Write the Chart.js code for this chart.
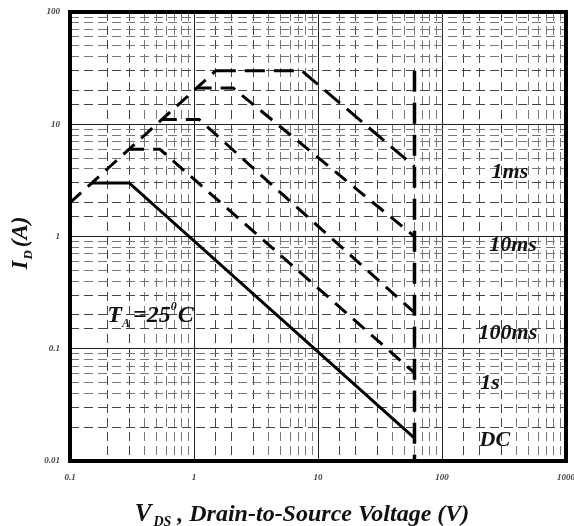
<!DOCTYPE html>
<html>
<head>
<meta charset="utf-8">
<script src="https://cdn.jsdelivr.net/npm/chart.js@4.4.0/dist/chart.umd.min.js"></script>
<style>
  body { margin: 0; background: #fff; }
  #wrap { width: 574px; height: 526px; }
</style>
</head>
<body>
<div id="wrap"><canvas id="soa" width="574" height="526"></canvas></div>
<script>
"use strict"

// tick labels for the decades
const xTickLabels = ['0.1', '1', '10', '100', '1000']
const yTickLabels = ['0.01', '0.1', '1', '10', '100']

// Rds(on) limit line (V, A)
const rdsV = [0.1, 1.5]
const rdsI = [2, 30]

// pulse curves: current limit, then power limit down to 60 V
const dcV = [0.15, 0.3, 60]
const dcI = [3, 3, 0.016]
const s1V = [0.3, 0.53, 60]
const s1I = [6, 6, 0.061]
const ms100V = [0.55, 1.1, 60]
const ms100I = [11, 11, 0.21]
const ms10V = [1.05, 2.07, 60]
const ms10I = [21, 21, 1.0]
const ms1V = [1.5, 7.4, 60]
const ms1I = [30, 30, 4.2]

// breakdown voltage limit
const bvV = [60, 60]
const bvI = [30, 0.01]

// curve labels, placed in data coordinates
const curveLabels = ['1ms', '10ms', '100ms', '1s', 'DC']
const labelV = [353, 374, 340, 244, 267]
const labelI = [3.73, 0.83, 0.136, 0.0497, 0.0154]

function pts(xs, ys) {
    return xs.map((x, i) => ({x: x, y: ys[i]}))
}

function isDecade(v) {
    const l = Math.log10(v)
    return Math.abs(l - Math.round(l)) < 1e-6
}

function digit(v) {
    // first significant digit of a tick value
    return Math.round(v / Math.pow(10, Math.floor(Math.log10(v) + 1e-9)))
}

function gridColor(ctx) {
    if (!ctx.tick) return '#000'
    const v = ctx.tick.value
    if (isDecade(v)) return '#222'
    const d = digit(v)
    return d <= 3 ? '#444' : '#777'
}

function gridDash(ctx) {
    if (!ctx.tick || isDecade(ctx.tick.value)) return []
    return [9, 5]
}

const serif = 'Liberation Serif'
const tickFont = {family: serif, size: 9, style: 'italic', weight: 'bold'}

function dashed(data) {
    return {
        data: data, showLine: true, pointRadius: 0,
        borderColor: '#000', borderWidth: 3, borderDash: [15, 9],
        borderCapStyle: 'butt', fill: false
    }
}

// draw a row of text pieces, some of them sub/superscript
function drawRuns(ctx, runs, x, y, align) {
    let total = 0
    runs.forEach(r => {
        ctx.font = 'italic bold ' + r.size + 'px "' + serif + '"'
        r.w = ctx.measureText(r.text).width
        total += r.w + (r.gap || 0)
    })
    let cx = align === 'center' ? x - total / 2 : x
    ctx.textAlign = 'left'
    ctx.textBaseline = 'alphabetic'
    runs.forEach(r => {
        ctx.font = 'italic bold ' + r.size + 'px "' + serif + '"'
        ctx.fillText(r.text, cx, y + (r.dy || 0))
        cx += r.w + (r.gap || 0)
    })
}

const decorations = {
    id: 'decorations',
    afterDraw(chart) {
        const ctx = chart.ctx
        const a = chart.chartArea
        const xs = chart.scales.x
        const ys = chart.scales.y
        ctx.save()

        // thick frame around the plot
        ctx.strokeStyle = '#000'
        ctx.lineWidth = 4
        ctx.setLineDash([])
        ctx.strokeRect(a.left, a.top, a.right - a.left, a.bottom - a.top)

        ctx.fillStyle = '#111'
        // curve labels
        curveLabels.forEach((t, i) => {
            ctx.font = 'italic bold 22px "' + serif + '"'
            ctx.textAlign = 'center'
            ctx.textBaseline = 'middle'
            ctx.fillText(t, xs.getPixelForValue(labelV[i]), ys.getPixelForValue(labelI[i]))
        })

        // ambient temperature note
        drawRuns(ctx, [
            {text: 'T', size: 24, gap: 0},
            {text: 'A', size: 12, dy: 5, gap: 3},
            {text: '=25', size: 24},
            {text: '0', size: 12, dy: -12, gap: 1},
            {text: 'C', size: 24}
        ], xs.getPixelForValue(0.2), ys.getPixelForValue(0.174), 'left')

        // x axis title
        drawRuns(ctx, [
            {text: 'V', size: 25, gap: 2},
            {text: 'DS', size: 14, dy: 5, gap: 0},
            {text: ' , Drain-to-Source Voltage (V)', size: 24}
        ], 302, 521, 'center')

        // y axis title, rotated
        ctx.translate(27, 243)
        ctx.rotate(-Math.PI / 2)
        drawRuns(ctx, [
            {text: 'I', size: 23, gap: 1},
            {text: 'D', size: 13, dy: 5, gap: 3},
            {text: '(A)', size: 23}
        ], 0, 0, 'center')

        ctx.restore()
    }
}

new Chart(document.getElementById('soa'), {
    type: 'scatter',
    data: {
        datasets: [
            dashed(pts(rdsV, rdsI)),
            Object.assign(dashed(pts(dcV, dcI)), {borderDash: []}),
            dashed(pts(s1V, s1I)),
            dashed(pts(ms100V, ms100I)),
            dashed(pts(ms10V, ms10I)),
            Object.assign(dashed(pts(ms1V, ms1I)), {borderDash: [20, 9]}),
            Object.assign(dashed(pts(bvV, bvI)), {borderWidth: 3.5, borderDash: [21, 11]})
        ]
    },
    options: {
        responsive: false,
        animation: false,
        layout: {padding: {left: 0, right: 8, top: 12, bottom: 0}},
        plugins: {legend: {display: false}, tooltip: {enabled: false}},
        scales: {
            x: {
                type: 'logarithmic', min: 0.1, max: 1000,
                grid: {color: gridColor, lineWidth: 1, drawTicks: false},
                border: {display: false, dash: gridDash},
                ticks: {
                    autoSkip: false, maxRotation: 0, padding: 11,
                    font: tickFont, color: '#444',
                    callback: v => isDecade(v) ? xTickLabels[Math.round(Math.log10(v)) + 1] : ''
                },
                afterFit(scale) {
                    scale.height = 65
                    scale.paddingLeft = 0
                    scale.paddingRight = 0
                }
            },
            y: {
                type: 'logarithmic', min: 0.01, max: 100,
                grid: {color: gridColor, lineWidth: 1, drawTicks: false},
                border: {display: false, dash: gridDash},
                ticks: {
                    autoSkip: false, padding: 10,
                    font: tickFont, color: '#444',
                    callback: v => isDecade(v) ? yTickLabels[Math.round(Math.log10(v)) + 2] : ''
                },
                afterFit(scale) {
                    scale.width = 70
                    scale.paddingTop = 0
                    scale.paddingBottom = 0
                }
            }
        }
    },
    plugins: [decorations]
})
</script>
</body>
</html>
